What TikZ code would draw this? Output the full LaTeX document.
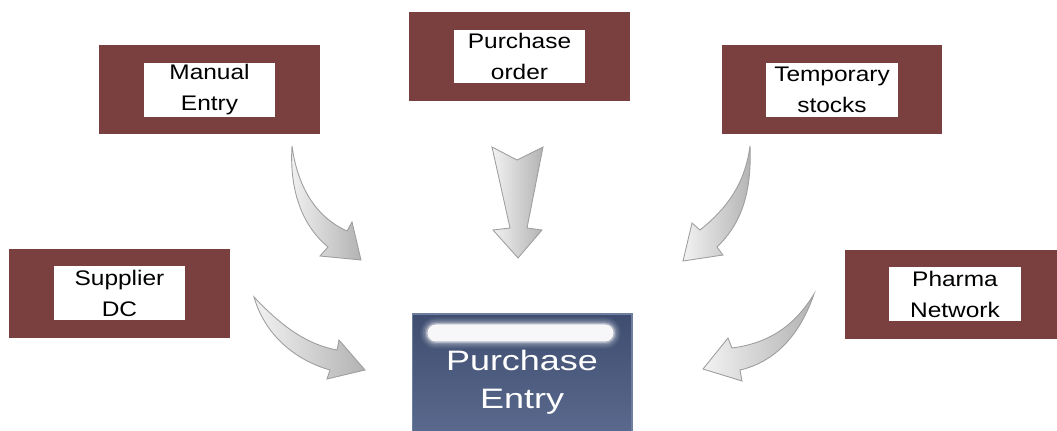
\documentclass[tikz,border=0pt]{standalone}
\usepackage{fontspec}
\setmainfont{Liberation Sans}[FakeStretch=1.16]
\newfontfamily\entryfont{Liberation Sans}[FakeStretch=1.28]
\usetikzlibrary{calc,positioning}

\definecolor{boxred}{RGB}{122,64,63}
\definecolor{entrytop}{RGB}{62,77,112}
\definecolor{entrybottom}{RGB}{94,110,146}
\definecolor{entryrim}{RGB}{110,125,160}

\begin{document}
\begin{tikzpicture}[x=0.02cm,y=-0.02cm]

\tikzstyle{srcframe} = [rectangle,fill=boxred,minimum width=4.42cm,minimum height=1.78cm,inner sep=0]%
\tikzstyle{srclabel} = [rectangle,fill=white,minimum width=2.64cm,minimum height=1.08cm,inner sep=0,align=center,font=\fontsize{12}{17.6}\selectfont,text=black]%
\tikzstyle{entrybox} = [rectangle,top color=entrytop,bottom color=entrybottom,draw=entryrim,line width=0.6pt,minimum width=4.4cm,minimum height=2.72cm,inner sep=0,align=center,text=white,font=\entryfont\fontsize{16}{21.5}\selectfont]%
\tikzstyle{flowarrow} = [draw=black!38,line width=0.5pt,left color=black!5,right color=black!30]%

\useasboundingbox (0,0) rectangle (1057,430);
\clip (0,0) rectangle (1057,430);

% sources
\node[srcframe] (manualframe) at (209.5,89.5) {};
\node[srclabel] (manual) at (manualframe) {Manual\\Entry};

\node[srcframe] (orderframe) at (519.5,56.5) {};
\node[srclabel] (order) at (orderframe) {Purchase\\order};

\node[srcframe] (stocksframe) at (832,89.5) {};
\node[srclabel] (stocks) at (stocksframe) {Temporary\\stocks};

\node[srcframe] (supplierframe) at (119.5,293) {};
\node[srclabel] (supplier) at (supplierframe) {Supplier\\DC};

\node[srcframe] (pharmaframe) at (955,294) {};
\node[srclabel] (pharma) at (pharmaframe) {Pharma\\Network};

% target, with its soft glossy bar
\node[entrybox] (entry) at (522,382) {Purchase\\Entry};
\foreach \e/\o in {7/0.08,5/0.12,3/0.2,1.5/0.35,0/0.9} {
  \pgfmathsetmacro{\r}{(8.5+\e)*0.02}
  \fill[white,opacity=\o,rounded corners=\r cm]
      ($(entry.north west)+(16-\e,11-\e)$) rectangle ($(entry.north east)+(-19+\e,28+\e)$);
}

% arrows
\coordinate (manualtail) at (292,146);
\coordinate (manualtip) at (361,260);
\path[flowarrow] (manualtail)
    .. controls (298,190) and (318,218) .. (347,231)
    -- (352,222) -- (manualtip) -- (320,256) -- (328,247)
    .. controls (305,228) and (289,195) .. (manualtail) -- cycle;

\coordinate (ordertail) at (517,160);
\coordinate (ordertip) at (518,258);
\path[flowarrow] (ordertail) -- (543,147) -- (527,228) -- (542,230)
    -- (ordertip) -- (493,230) -- (510,228) -- (492,147) -- cycle;

\coordinate (stockstail) at (750,146);
\coordinate (stockstip) at (683,261);
\path[flowarrow] (stockstail)
    .. controls (752,195) and (740,225) .. (717,247)
    -- (723,255) -- (stockstip) -- (692,223) -- (700,230)
    .. controls (725,210) and (745,185) .. (stockstail) -- cycle;

\coordinate (suppliertail) at (254,297);
\coordinate (suppliertip) at (365,370);
\path[flowarrow] (suppliertail)
    .. controls (285,330) and (310,345) .. (337,350)
    -- (339,340) -- (suppliertip) -- (327,379) -- (330,370)
    .. controls (295,360) and (265,335) .. (suppliertail) -- cycle;

\coordinate (pharmatail) at (814,294);
\coordinate (pharmatip) at (703,369);
\path[flowarrow] (pharmatail)
    .. controls (795,325) and (770,343) .. (732,348)
    -- (728,338) -- (pharmatip) -- (742,381) -- (740,370)
    .. controls (775,362) and (800,335) .. (pharmatail) -- cycle;

\end{tikzpicture}
\end{document}
